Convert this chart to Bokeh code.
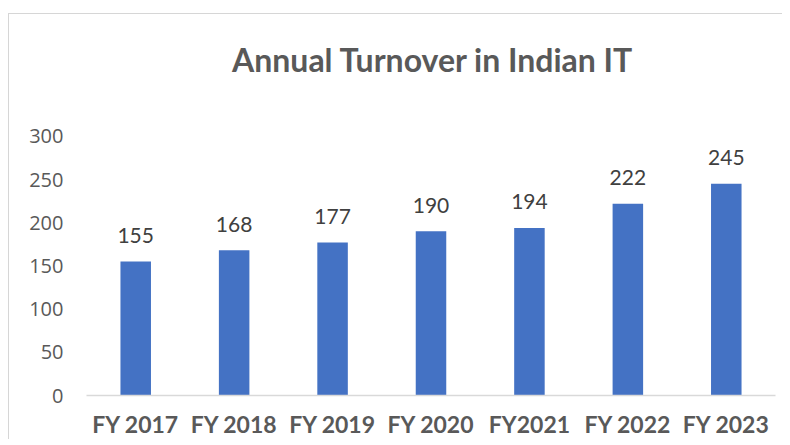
from bokeh.plotting import figure
from bokeh.models import ColumnDataSource, Range1d, FixedTicker, Label
from bokeh.core.properties import value
from bokeh.embed import file_html
from bokeh.resources import INLINE

title_text = "Annual Turnover in Indian IT"
years = ["FY 2017", "FY 2018", "FY 2019", "FY 2020", "FY2021", "FY 2022", "FY 2023"]
turnover = [155, 168, 177, 190, 194, 222, 245]
y_ticks = [0, 50, 100, 150, 200, 250, 300]

source = ColumnDataSource(data=dict(year=years, turnover=turnover,
                                    label=[str(v) for v in turnover]))

# the frame extends upward over the title area; only 0..300 carries ticks
p = figure(x_range=years, y_range=Range1d(0, 441), width=774, height=426,
           output_backend="svg", toolbar_location=None,
           min_border_left=77, min_border_right=8, min_border_top=0, min_border_bottom=44)
p.margin = (13, 0, 0, 8)
p.styles = {"border-top": "1px solid #d6d6d6", "border-left": "1px solid #d6d6d6"}

p.vbar(x="year", top="turnover", width=0.31, source=source,
       fill_color="#4472C4", line_color=None)

p.text(x="year", y="turnover", text="label", source=source,
       text_font=value("Lato"), text_font_size="21px", text_color="#404040",
       text_align="center", text_baseline="alphabetic", y_offset=-26)

title = Label(x=len(years) / 2, y=389, text=title_text,
              text_font="Lato", text_font_size="32px", text_font_style="bold",
              text_color="#595959", text_align="center", text_baseline="middle",
              x_offset=2)
p.add_layout(title)

p.outline_line_color = None
p.xgrid.grid_line_color = None
p.ygrid.grid_line_color = None

p.yaxis.ticker = FixedTicker(ticks=y_ticks)
p.yaxis.axis_line_color = None
p.yaxis.major_tick_line_color = None
p.yaxis.minor_tick_line_color = None
p.yaxis.major_tick_out = 0
p.yaxis.major_label_standoff = 23
p.yaxis.major_label_text_font = "Open Sans"
p.yaxis.major_label_text_font_size = "20px"
p.yaxis.major_label_text_color = "#595959"

p.xaxis.axis_line_color = "#d9d9d9"
p.xaxis.axis_line_width = 1.5
p.xaxis.major_tick_line_color = None
p.xaxis.major_tick_out = 0
p.xaxis.major_label_standoff = 14
p.xaxis.major_label_text_font = "Lato"
p.xaxis.major_label_text_font_size = "23px"
p.xaxis.major_label_text_font_style = "bold"
p.xaxis.major_label_text_color = "#595959"

p.background_fill_color = "white"
p.border_fill_color = "white"

open("out.html", "w").write(file_html(p, INLINE))
